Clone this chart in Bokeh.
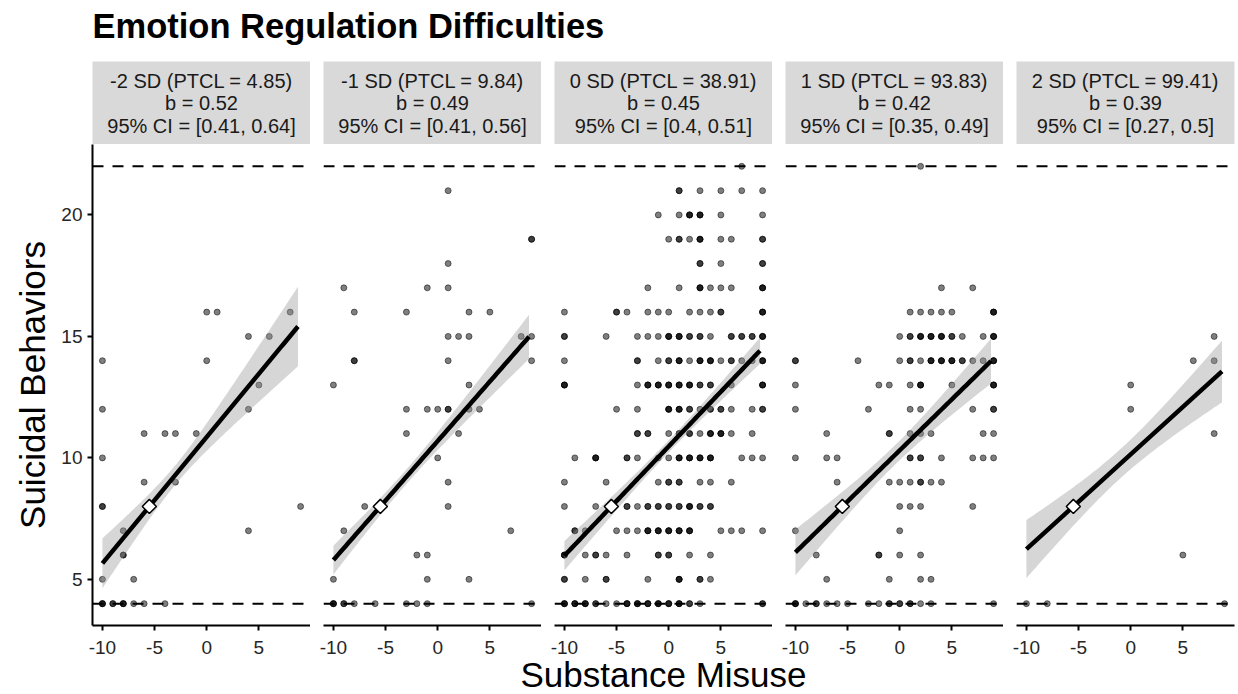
import numpy as np
from bokeh.plotting import figure
from bokeh.layouts import column, row
from bokeh.models import Range1d, Span, FixedTicker
from bokeh.embed import file_html
from bokeh.resources import INLINE
from bokeh.core.properties import value

# ---------------- data ----------------
TITLE = "Emotion Regulation Difficulties"
X_LABEL = "Substance Misuse"
Y_LABEL = "Suicidal Behaviors"

STRIP_SD = ["-2 SD (PTCL = 4.85)", "-1 SD (PTCL = 9.84)", "0 SD (PTCL = 38.91)",
            "1 SD (PTCL = 93.83)", "2 SD (PTCL = 99.41)"]
STRIP_B = ["b = 0.52", "b = 0.49", "b = 0.45", "b = 0.42", "b = 0.39"]
STRIP_CI = ["95% CI = [0.41, 0.64]", "95% CI = [0.41, 0.56]", "95% CI = [0.4, 0.51]",
            "95% CI = [0.35, 0.49]", "95% CI = [0.27, 0.5]"]

SLOPES = [0.52, 0.49, 0.45, 0.42, 0.39]
ANCHOR_X = -5.5          # white diamond (x)
ANCHOR_Y = 8.0           # white diamond (y)
LINE_X = [-10.0, 8.75]   # extent of fitted lines
BAND_H0 = [0.40, 0.30, 0.25, 0.40, 0.60]   # narrowest CI half-width
BAND_XC = [-3.0, -3.0, 0.0, -0.5, -1.0]    # where band is narrowest
BAND_W = [0.135, 0.073, 0.055, 0.090, 0.115]

BOUNDS = [4, 22]          # dashed reference lines
X_TICKS = [-10, -5, 0, 5]
Y_TICKS = [5, 10, 15, 20]

# points per panel: {y: [x values]}  (repeated x = overlapping observations)
P1_ROWS = {
    16: [0, 1, 8], 15: [4, 6], 14: [-10, 0], 13: [5], 12: [-10, 4],
    11: [-6, -4, -3, -1], 10: [-10], 9: [-6, -3], 8: [-10, -10, 9],
    7: [-8, 4], 6: [-8, -8], 5: [-10, -7],
    4: [-10, -10, -10, -9, -9, -8, -8, -8, -7, -6, -4],
}
P2_ROWS = {
    21: [1], 19: [9, 9], 18: [1], 17: [-9, -1, 1], 16: [-8, -3, 3, 5],
    15: [1, 2, 3, 8, 9], 14: [-8, -8, 1, 9], 13: [-10, 3],
    12: [-3, -1, 0, 1, 1, 3, 4], 11: [-3, 2], 10: [0], 9: [1], 8: [-7, 1],
    7: [-9, 7], 6: [-2, -1], 5: [-10, -1, 3],
    4: [-10, -10, -10, -9, -9, -8, -6, -3, -2, -1, 9],
}
P3_ROWS = {
    22: [7],
    21: [1, 1, 3, 5, 7, 9],
    20: [-1, 1, 2, 2, 2, 3, 3, 3, 5, 9],
    19: [0, 1, 1, 2, 3, 3, 3, 5, 6, 9, 9],
    18: [3, 3, 5, 9, 9],
    17: [-2, 1, 3, 3, 3, 4, 5, 6, 9, 9, 9],
    16: [-10, -5, -5, -4, -2, -1, 0, 2, 3, 4, 5, 5, 9, 9, 9],
    15: [-10, -10, -6, -3, -2, -1, 0, 0, 0, 1, 1, 1, 2, 2, 3, 3, 4, 6, 6, 7, 7, 8, 8, 9, 9, 9],
    14: [-10, -3, -3, -1, 0, 0, 1, 1, 1, 2, 3, 3, 3, 4, 4, 4, 5, 6, 6, 7, 8, 9, 9, 9],
    13: [-10, -10, -10, -3, -2, -2, -2, -1, -1, -1, 0, 0, 0, 1, 1, 1, 2, 2, 2, 3, 3, 4, 4, 6, 9, 9, 9],
    12: [-5, -3, 0, 0, 0, 1, 1, 1, 2, 2, 3, 4, 4, 5, 5, 6, 8, 9, 9],
    11: [-3, -3, -2, -2, 0, 1, 1, 2, 2, 3, 4, 4, 4, 5, 5, 5, 6, 8],
    10: [-9, -7, -7, -7, -4, -4, -3, -1, 0, 1, 1, 1, 2, 2, 2, 3, 3, 3, 4, 4, 4, 7, 8, 9],
    9: [-10, -6, -1, 0, 0, 1, 1, 3, 4, 6],
    8: [-10, -7, -4, -4, -3, -2, -2, -1, -1, 0, 0, 1, 1, 2, 2, 2, 3, 3, 4, 4],
    7: [-9, -9, -8, -5, -4, -3, -2, -2, -2, -1, -1, -1, 0, 0, 0, 1, 1, 1, 2, 2, 2, 5, 6, 7, 9],
    6: [-10, -10, -10, -8, -7, -7, -6, -4, -1, -1, 0, 0, 2, 4],
    5: [-10, -10, -8, -6, -6, -2, 1, 1, 1, 3, 3, 4],
    4: [-10, -10, -10, -9, -9, -9, -8, -8, -8, -7, -7, -6, -5, -4, -4, -4, -3, -3, -3,
        -2, -2, -2, -1, -1, -1, 0, 0, 0, 1, 1, 1, 2, 2, 3, 9, 9],
}
P4_ROWS = {
    22: [2],
    17: [4, 7],
    16: [1, 2, 3, 4, 5, 9, 9, 9],
    15: [0, 1, 1, 2, 2, 2, 3, 3, 3, 4, 4, 4, 5, 5, 6, 8, 9, 9, 9],
    14: [-10, -10, -4, 0, 1, 1, 2, 3, 3, 3, 4, 4, 4, 5, 5, 5, 6, 6, 7, 8, 9, 9, 9],
    13: [-10, -2, -1, 1, 2, 2, 2, 5, 9, 9, 9],
    12: [-10, -3, 1, 2, 7, 9, 9],
    11: [-7, -1, -1, 1, 2, 3, 8, 9],
    10: [-10, -7, -6, 1, 1, 2, 2, 4, 7, 8, 9],
    9: [-6, -1, 0, 1, 2, 2, 3, 4],
    8: [0, 1, 2, 7],
    7: [-10, 0],
    6: [-8, -2, -2, 0, 2],
    5: [-7, -1, 2, 3],
    4: [-10, -10, -10, -9, -8, -8, -7, -6, -5, -3, -2, -1, -1, 0, 0, 1, 1, 2, 3, 9],
}
P5_ROWS = {
    15: [8], 14: [6, 8], 13: [0], 12: [0], 11: [8], 6: [5], 4: [-10, -8, 9],
}
PANEL_ROWS = [P1_ROWS, P2_ROWS, P3_ROWS, P4_ROWS, P5_ROWS]

# ---------------- style / layout ----------------
FONT = "Liberation Sans"
LEFT = 92        # room for the y axis of the first panel
W = 218          # panel frame width
GAP = 13         # gap between panels
RIGHT = 4
H_TITLE = 61
H_STRIP = 83
H_FRAME = 481
B_BOTTOM = 42
H_XLAB = 40
XLAB_OVERLAP = 13
TOTAL_W = LEFT + W + 4 * (GAP + W) + RIGHT


def expand(lo, hi, f=0.05):
    d = (hi - lo) * f
    return lo - d, hi + d


all_x = [x for rows in PANEL_ROWS for xs in rows.values() for x in xs]
all_y = [y for rows in PANEL_ROWS for y in rows.keys()] + BOUNDS
XR = expand(min(all_x), max(all_x))
YR = expand(min(all_y), max(all_y))


def bare_fig(width, height, xr, yr, **kw):
    p = figure(width=width, height=height, x_range=Range1d(*xr), y_range=Range1d(*yr),
               toolbar_location=None, output_backend="svg", **kw)
    p.outline_line_color = None
    p.background_fill_color = "white"
    p.border_fill_color = "white"
    for g in p.grid:
        g.visible = False
    return p


# title
title_fig = bare_fig(TOTAL_W, H_TITLE, (0, TOTAL_W), (0, H_TITLE),
                     x_axis_location=None, y_axis_location=None, min_border=0)
title_fig.text(x=[LEFT], y=[H_TITLE - 25], text=[TITLE], text_font=value(FONT),
               text_font_size="34.5px", text_font_style="bold", text_color="black",
               text_align="left", text_baseline="middle")

columns = []
for i, rows in enumerate(PANEL_ROWS):
    lb = LEFT if i == 0 else GAP
    rb = RIGHT if i == 4 else 0

    # strip
    s = bare_fig(lb + W + rb, H_STRIP, (0, 1), (0, H_STRIP),
                 x_axis_location=None, y_axis_location=None,
                 min_border_left=lb, min_border_right=rb, min_border_top=0, min_border_bottom=0)
    s.background_fill_color = "#d9d9d9"
    s.text(x=[0.5, 0.5, 0.5], y=[H_STRIP - 19, H_STRIP - 41.5, H_STRIP - 64],
           text=[STRIP_SD[i], STRIP_B[i], STRIP_CI[i]],
           text_font=value(FONT), text_font_size="20px", text_color="#1a1a1a",
           text_align="center", text_baseline="middle")

    # panel
    p = bare_fig(lb + W + rb, H_FRAME + B_BOTTOM, XR, YR,
                 x_axis_location="below", y_axis_location=("left" if i == 0 else None),
                 min_border_left=lb, min_border_right=rb, min_border_top=0,
                 min_border_bottom=B_BOTTOM)

    for b in BOUNDS:
        p.add_layout(Span(location=b, dimension="width", line_color="black",
                          line_width=2, line_dash="11 9", level="underlay"))

    xs = [x for y, xl in rows.items() for x in xl]
    ys = [y for y, xl in rows.items() for x in xl]
    p.scatter(xs, ys, size=6, fill_color="black", fill_alpha=0.5,
              line_color="black", line_alpha=0.5, line_width=1)

    lx = np.linspace(LINE_X[0], LINE_X[1], 80)
    ly = ANCHOR_Y + SLOPES[i] * (lx - ANCHOR_X)
    hw = np.sqrt(BAND_H0[i] ** 2 + (BAND_W[i] * (lx - BAND_XC[i])) ** 2)
    p.varea(x=lx, y1=ly - hw, y2=ly + hw, fill_color="#999999", fill_alpha=0.4)
    p.line(lx, ly, line_color="black", line_width=4.5)
    p.scatter([ANCHOR_X], [ANCHOR_Y], marker="square", size=10, angle=np.pi / 4,
              fill_color="white", line_color="black", line_width=1.5)

    axes = list(p.xaxis) + (list(p.yaxis) if i == 0 else [])
    for ax in axes:
        ax.axis_line_color = "black"
        ax.axis_line_width = 2
        ax.major_tick_line_color = "black"
        ax.major_tick_line_width = 2
        ax.major_tick_in = 0
        ax.major_tick_out = 5
        ax.minor_tick_line_color = None
        ax.major_label_text_font = FONT
        ax.major_label_text_font_size = "19px"
        ax.major_label_text_color = "#262626"
        ax.major_label_standoff = 5
    xa = p.xaxis[0]
    xa.ticker = FixedTicker(ticks=X_TICKS)
    xa.major_label_overrides = {t: str(t) for t in X_TICKS}
    xa.major_label_standoff = 10
    if i == 0:
        ya = p.yaxis[0]
        ya.ticker = FixedTicker(ticks=Y_TICKS)
        ya.major_label_overrides = {t: str(t) for t in Y_TICKS}
        ya.axis_label = Y_LABEL
        ya.axis_label_text_font = FONT
        ya.axis_label_text_font_size = "35px"
        ya.axis_label_text_font_style = "normal"
        ya.axis_label_text_color = "black"
        ya.axis_label_standoff = 6

    columns.append(column(s, p))

# x label (its transparent canvas overlaps the empty lower part of the panel borders)
xlab_fig = figure(width=TOTAL_W, height=H_XLAB, x_range=Range1d(0, TOTAL_W),
                  y_range=Range1d(0, H_XLAB), toolbar_location=None, output_backend="svg",
                  x_axis_location=None, y_axis_location=None, min_border=0)
for g in xlab_fig.grid:
    g.visible = False
xlab_fig.xgrid.visible = False
xlab_fig.ygrid.visible = False
xlab_fig.outline_line_color = None
xlab_fig.background_fill_alpha = 0
xlab_fig.border_fill_alpha = 0
xlab_fig.margin = (-XLAB_OVERLAP, 0, 0, 0)
xlab_fig.text(x=[(LEFT + TOTAL_W - RIGHT) / 2], y=[20], text=[X_LABEL],
              text_font=value(FONT), text_font_size="35px", text_color="black",
              text_align="center", text_baseline="middle")

layout = column(title_fig, row(*columns), xlab_fig)

with open("out.html", "w") as f:
    f.write(file_html(layout, INLINE))
